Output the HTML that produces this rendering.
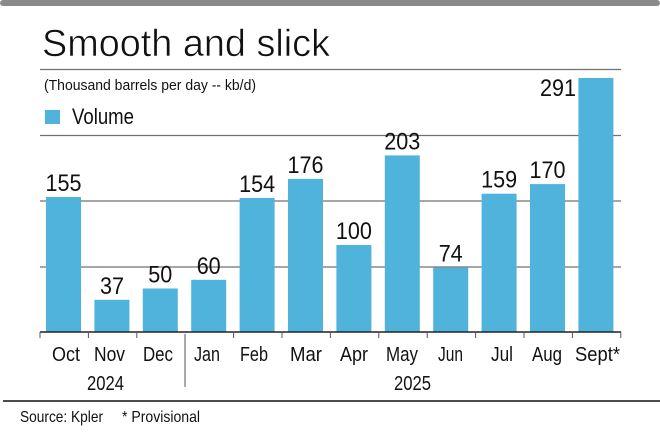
<!DOCTYPE html>
<html><head><meta charset="utf-8"><style>
html,body{margin:0;padding:0;background:#fff;}
svg{display:block;}
text{font-family:"Liberation Sans",sans-serif;fill:#111;}
</style></head><body>
<svg width="660" height="443" viewBox="0 0 660 443" xmlns="http://www.w3.org/2000/svg">
<rect x="0" y="0" width="660" height="443" fill="#fff"/>
<rect x="0" y="0" width="660" height="6" rx="3" fill="#8a8a8a"/>
<text x="42" y="56" font-size="38" textLength="288" lengthAdjust="spacingAndGlyphs" fill="#1a1a1a" stroke="#fff" stroke-width="0.6">Smooth and slick</text>
<text x="44" y="90" font-size="15" textLength="212" lengthAdjust="spacingAndGlyphs">(Thousand barrels per day -- kb/d)</text>
<rect x="45" y="110" width="15" height="14" fill="#4fb3dc"/>
<text x="72" y="124" font-size="22" textLength="62" lengthAdjust="spacingAndGlyphs">Volume</text>
<g stroke="#707070" stroke-width="1.3">
<line x1="40" y1="69.5" x2="621" y2="69.5"/>
<line x1="40" y1="135.5" x2="621" y2="135.5"/>
<line x1="40" y1="201" x2="621" y2="201"/>
<line x1="40" y1="267" x2="621" y2="267"/>
</g>
<g fill="#4fb3dc">
<rect x="46" y="197" width="35" height="135"/>
<rect x="94.4" y="299.8" width="35" height="32.2"/>
<rect x="142.8" y="288.5" width="35" height="43.5"/>
<rect x="191.2" y="279.8" width="35" height="52.2"/>
<rect x="239.6" y="198" width="35" height="134"/>
<rect x="288" y="178.9" width="35" height="153.1"/>
<rect x="336.4" y="245" width="35" height="87"/>
<rect x="384.8" y="155.4" width="35" height="176.6"/>
<rect x="433.2" y="267.6" width="35" height="64.4"/>
<rect x="481.6" y="193.7" width="35" height="138.3"/>
<rect x="530" y="184.1" width="35" height="147.9"/>
<rect x="578.4" y="78" width="35" height="254"/>
</g>
<g font-size="24">
<text x="45.5" y="191" textLength="36" lengthAdjust="spacingAndGlyphs">155</text>
<text x="100" y="294" textLength="24" lengthAdjust="spacingAndGlyphs">37</text>
<text x="148.3" y="282.5" textLength="24" lengthAdjust="spacingAndGlyphs">50</text>
<text x="196.7" y="273.8" textLength="24" lengthAdjust="spacingAndGlyphs">60</text>
<text x="239.1" y="192" textLength="36" lengthAdjust="spacingAndGlyphs">154</text>
<text x="287.5" y="172.9" textLength="36" lengthAdjust="spacingAndGlyphs">176</text>
<text x="335.9" y="239" textLength="36" lengthAdjust="spacingAndGlyphs">100</text>
<text x="384.3" y="149.4" textLength="36" lengthAdjust="spacingAndGlyphs">203</text>
<text x="438.7" y="261.6" textLength="24" lengthAdjust="spacingAndGlyphs">74</text>
<text x="481.1" y="187.7" textLength="36" lengthAdjust="spacingAndGlyphs">159</text>
<text x="529.5" y="178.1" textLength="36" lengthAdjust="spacingAndGlyphs">170</text>
<text x="540" y="96" textLength="36" lengthAdjust="spacingAndGlyphs">291</text>
</g>
<line x1="40" y1="332" x2="621" y2="332" stroke="#222" stroke-width="1.5"/>
<g stroke="#555" stroke-width="1">
<line x1="40" y1="332" x2="40" y2="338"/><line x1="88.4" y1="332" x2="88.4" y2="338"/>
<line x1="136.8" y1="332" x2="136.8" y2="338"/><line x1="233.6" y1="332" x2="233.6" y2="338"/>
<line x1="282" y1="332" x2="282" y2="338"/><line x1="330.4" y1="332" x2="330.4" y2="338"/>
<line x1="378.8" y1="332" x2="378.8" y2="338"/><line x1="427.2" y1="332" x2="427.2" y2="338"/>
<line x1="475.6" y1="332" x2="475.6" y2="338"/><line x1="524" y1="332" x2="524" y2="338"/>
<line x1="572.4" y1="332" x2="572.4" y2="338"/><line x1="620.8" y1="332" x2="620.8" y2="338"/>
<line x1="185" y1="334" x2="185" y2="387"/>
</g>
<g font-size="20.5">
<text x="52" y="361" textLength="28" lengthAdjust="spacingAndGlyphs">Oct</text>
<text x="94" y="361" textLength="31" lengthAdjust="spacingAndGlyphs">Nov</text>
<text x="143" y="361" textLength="30" lengthAdjust="spacingAndGlyphs">Dec</text>
<text x="194" y="361" textLength="26" lengthAdjust="spacingAndGlyphs">Jan</text>
<text x="240" y="361" textLength="28" lengthAdjust="spacingAndGlyphs">Feb</text>
<text x="290" y="361" textLength="32" lengthAdjust="spacingAndGlyphs">Mar</text>
<text x="340" y="361" textLength="28" lengthAdjust="spacingAndGlyphs">Apr</text>
<text x="386" y="361" textLength="32" lengthAdjust="spacingAndGlyphs">May</text>
<text x="438" y="361" textLength="25" lengthAdjust="spacingAndGlyphs">Jun</text>
<text x="491" y="361" textLength="22" lengthAdjust="spacingAndGlyphs">Jul</text>
<text x="532" y="361" textLength="30" lengthAdjust="spacingAndGlyphs">Aug</text>
<text x="575" y="361" textLength="45" lengthAdjust="spacingAndGlyphs">Sept*</text>
<text x="87" y="390" textLength="37" lengthAdjust="spacingAndGlyphs">2024</text>
<text x="394" y="390" textLength="37" lengthAdjust="spacingAndGlyphs">2025</text>
</g>
<line x1="3" y1="401" x2="660" y2="401" stroke="#111" stroke-width="1.5"/>
<text x="20" y="422" font-size="16" textLength="83" lengthAdjust="spacingAndGlyphs">Source: Kpler</text>
<text x="122" y="422" font-size="16" textLength="78" lengthAdjust="spacingAndGlyphs">* Provisional</text>
</svg>
</body></html>
